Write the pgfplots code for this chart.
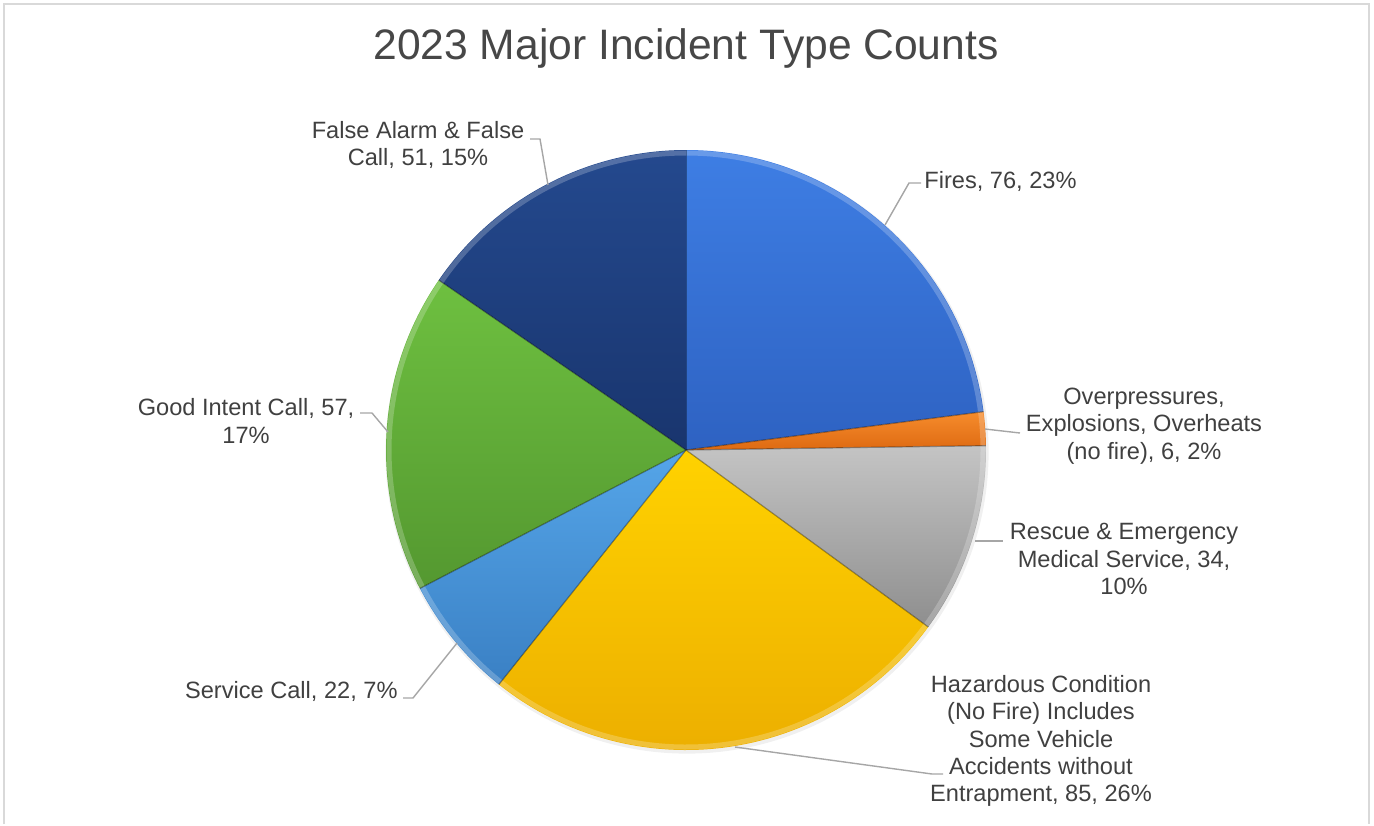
\documentclass[border=0pt]{standalone}
\usepackage{pgfplots}
\pgfplotsset{compat=1.18}
\usepackage{pgfplotstable}
\usepackage{fontspec}
\setmainfont{Liberation Sans}

% slice colours (top / bottom of the gradient)
\definecolor{c0top}{HTML}{3E7EE4}\definecolor{c0bot}{HTML}{2E62C2}
\definecolor{c1top}{HTML}{F68C2C}\definecolor{c1bot}{HTML}{DE6A12}
\definecolor{c2top}{HTML}{C4C4C4}\definecolor{c2bot}{HTML}{8E8E8E}
\definecolor{c3top}{HTML}{FFD200}\definecolor{c3bot}{HTML}{ECAE00}
\definecolor{c4top}{HTML}{55A5E8}\definecolor{c4bot}{HTML}{3A80C4}
\definecolor{c5top}{HTML}{6EC040}\definecolor{c5bot}{HTML}{549830}
\definecolor{c6top}{HTML}{24498E}\definecolor{c6bot}{HTML}{19356E}
\definecolor{txt}{HTML}{404040}
\definecolor{ttl}{HTML}{474747}
\definecolor{lead}{HTML}{A6A6A6}

% incident counts, clockwise from 12 o'clock
\pgfplotstableread{
count
76
6
34
85
22
57
51
}\incidents

% total and start/end angle of each slice
\gdef\total{0}
\pgfplotstableforeachcolumnelement{count}\of\incidents\as\v{%
  \pgfmathsetmacro\tmp{\total+\v}\xdef\total{\tmp}}
\gdef\curang{90}
\pgfplotstableforeachcolumnelement{count}\of\incidents\as\v{%
  \pgfmathsetmacro\nextang{\curang-(\v/\total)*360}%
  \expandafter\xdef\csname sa\pgfplotstablerow\endcsname{\curang}%
  \expandafter\xdef\csname ea\pgfplotstablerow\endcsname{\nextang}%
  \xdef\curang{\nextang}}

\begin{document}
\begin{tikzpicture}
\begin{axis}[
    width=687pt, height=412pt, scale only axis,
    xmin=0, xmax=1374, ymin=0, ymax=824, y dir=reverse,
    hide axis, clip=false,
]
\path (axis cs:0,0) rectangle (axis cs:1374,824);
\draw[black!15, line width=1.2pt] (axis cs:4,824) -- (axis cs:4,4) -- (axis cs:1369,4) -- (axis cs:1369,824);

% soft shadow
\fill[black, opacity=0.06] (axis cs:687,452) circle[radius=150.8pt];

\pgfplotsinvokeforeach{0,...,6}{
  \shade[top color=c#1top, bottom color=c#1bot]
    (axis cs:686,450) -- ++(\csname sa#1\endcsname:150pt)
    arc[start angle=\csname sa#1\endcsname, end angle=\csname ea#1\endcsname, radius=150pt] -- cycle;
  \draw[white, opacity=0.22, line width=2.5pt]
    (axis cs:686,450) ++(\csname sa#1\endcsname:148.5pt)
    arc[start angle=\csname sa#1\endcsname, end angle=\csname ea#1\endcsname, radius=148.5pt];
  \draw[black, opacity=0.35, line width=0.6pt]
    (axis cs:686,450) -- ++(\csname sa#1\endcsname:150pt);
}

% title
\node[text=ttl, font=\fontsize{21.3}{25}\selectfont] at (axis cs:686,48) {2023 Major Incident Type Counts};

% leader lines
\begin{scope}[lead, line width=0.7pt]
\draw (axis cs:530,139) -- (axis cs:540,139) -- (axis cs:548,185);
\draw (axis cs:921,183) -- (axis cs:909,183) -- (axis cs:885,225);
\draw (axis cs:985,429) -- (axis cs:1020,433);
\draw (axis cs:975,541) -- (axis cs:1003,541);
\draw (axis cs:735,747) -- (axis cs:932,774) -- (axis cs:943,774);
\draw (axis cs:360,413) -- (axis cs:372,413) -- (axis cs:388,432);
\draw (axis cs:403,698) -- (axis cs:413,698) -- (axis cs:457,643);
\end{scope}

% data labels
\begin{scope}[every node/.style={text=txt, align=center, inner sep=0pt,
    font=\fontsize{11.8}{13.6}\selectfont}]
\node at (axis cs:418,145) {False Alarm \& False\\Call, 51, 15\%};
\node[anchor=west] at (axis cs:924,181) {Fires, 76, 23\%};
\node at (axis cs:1144,426) {Overpressures,\\Explosions, Overheats\\(no fire), 6, 2\%};
\node at (axis cs:1124,559) {Rescue \& Emergency\\Medical Service, 34,\\10\%};
\node at (axis cs:1041,741) {Hazardous Condition\\(No Fire) Includes\\Some Vehicle\\Accidents without\\Entrapment, 85, 26\%};
\node[anchor=east] at (axis cs:398,691) {Service Call, 22, 7\%};
\node at (axis cs:246,421) {Good Intent Call, 57,\\17\%};
\end{scope}
\end{axis}
\end{tikzpicture}
\end{document}
